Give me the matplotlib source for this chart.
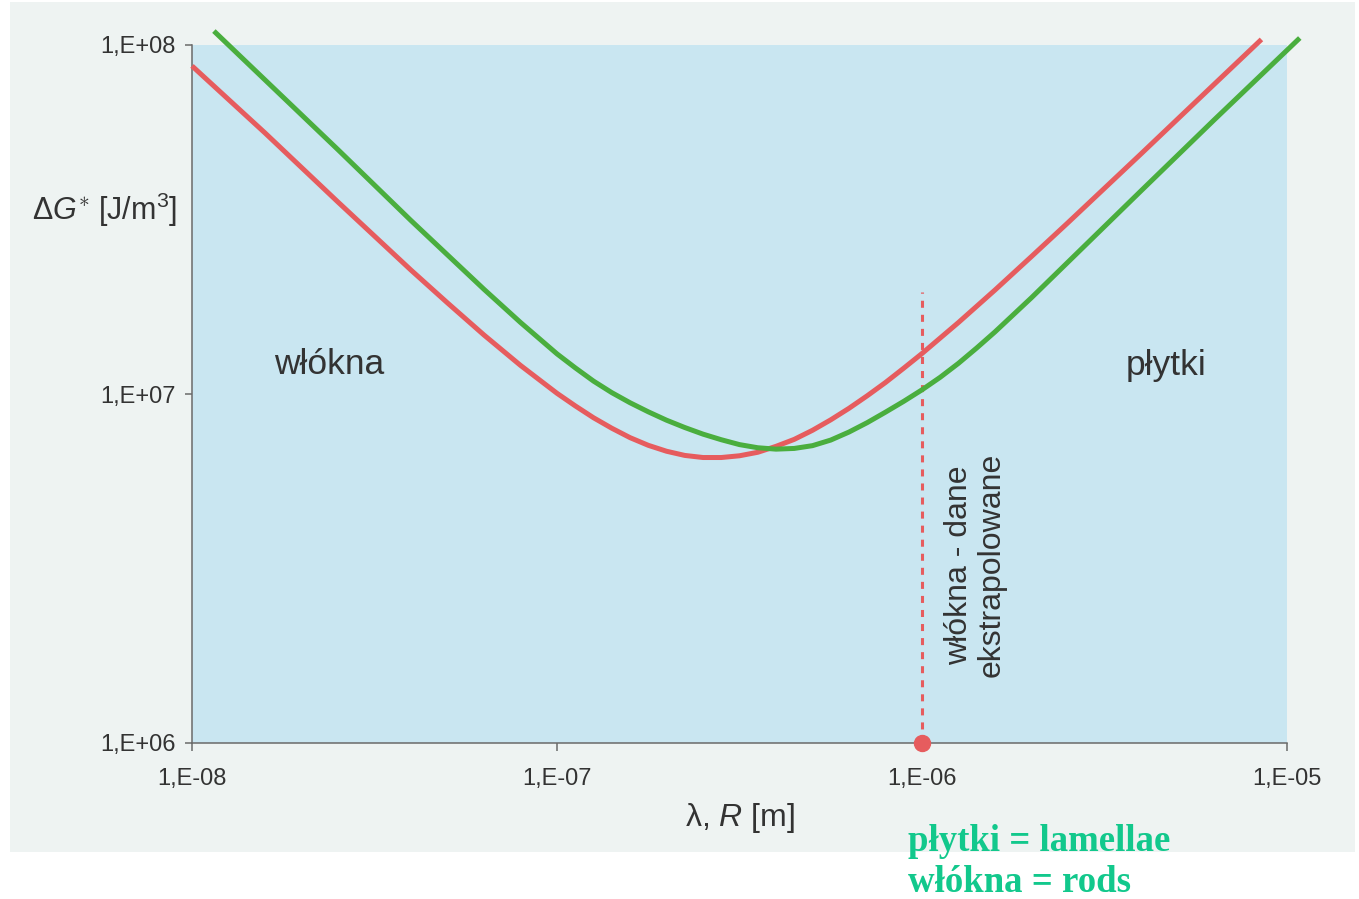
import matplotlib
matplotlib.use("Agg")
import matplotlib.pyplot as plt
from matplotlib.patches import Rectangle
import numpy as np

# ---- data (log10 values) ----
green_log_x = [-7.94, -7.8, -7.6, -7.4, -7.2, -7.1, -7.0, -6.95, -6.9, -6.85, -6.8,
               -6.75, -6.7, -6.65, -6.6, -6.55, -6.5, -6.45, -6.4, -6.35, -6.3,
               -6.25, -6.2, -6.15, -6.1, -6.05, -6.0, -5.95, -5.9, -5.85, -5.8,
               -5.7, -5.6, -5.4, -5.2, -5.0, -4.965]
green_log_y = [8.040, 7.900, 7.700, 7.497, 7.300, 7.205, 7.115, 7.075, 7.037, 7.004, 6.975,
               6.949, 6.925, 6.904, 6.885, 6.869, 6.855, 6.846, 6.842, 6.844, 6.852,
               6.868, 6.891, 6.918, 6.948, 6.979, 7.012, 7.048, 7.088, 7.132, 7.178,
               7.276, 7.378, 7.582, 7.785, 7.985, 8.020]

red_log_x = [-8.0, -7.8, -7.6, -7.4, -7.3, -7.2, -7.1, -7.0, -6.95, -6.9, -6.85, -6.8,
             -6.75, -6.7, -6.65, -6.6, -6.55, -6.5, -6.45, -6.4, -6.35, -6.3, -6.25,
             -6.2, -6.15, -6.1, -6.05, -6.0, -5.9, -5.8, -5.7, -5.6, -5.4, -5.2, -5.07]
red_log_y = [7.940, 7.748, 7.550, 7.355, 7.261, 7.169, 7.082, 7.002, 6.966, 6.932, 6.902, 6.875,
             6.853, 6.836, 6.824, 6.818, 6.818, 6.823, 6.833, 6.850, 6.870, 6.896, 6.926,
             6.959, 6.995, 7.033, 7.074, 7.116, 7.205, 7.298, 7.394, 7.491, 7.688, 7.887, 8.016]

boundary_x = 1e-6
boundary_y = [1e6, 1.96e7]

x_ticks = [1e-8, 1e-7, 1e-6, 1e-5]
x_tick_labels = ["1,E-08", "1,E-07", "1,E-06", "1,E-05"]
y_ticks = [1e6, 1e7, 1e8]
y_tick_labels = ["1,E+06", "1,E+07", "1,E+08"]

green_x = 10 ** np.array(green_log_x)
green_y = 10 ** np.array(green_log_y)
red_x = 10 ** np.array(red_log_x)
red_y = 10 ** np.array(red_log_y)

# ---- style ----
plt.rcParams['font.family'] = ['Liberation Sans', 'DejaVu Sans']
plt.rcParams['mathtext.fontset'] = 'custom'
plt.rcParams['mathtext.rm'] = 'Liberation Sans'
plt.rcParams['mathtext.it'] = 'Liberation Sans:italic'
plt.rcParams['mathtext.bf'] = 'Liberation Sans:bold'

W, H = 1359, 899
fig = plt.figure(figsize=(W / 100, H / 100), dpi=100, facecolor='white')

# scanned page background (light grey) behind the chart
bg = Rectangle((10 / W, 1 - 852 / H), (1355 - 10) / W, (852 - 2) / H,
               transform=fig.transFigure, facecolor='#eef3f2',
               edgecolor='none', zorder=-10)
fig.patches.append(bg)

ax = fig.add_axes([192 / W, 1 - 743 / H, (1287 - 192) / W, (743 - 45) / H])
ax.set_zorder(1)
ax.set_facecolor('#c9e6f1')
ax.set_xscale('log')
ax.set_yscale('log')
ax.set_xlim(1e-8, 1e-5)
ax.set_ylim(1e6, 1e8)

red_c = '#e65c5e'
green_c = '#4aae3e'

ax.plot(red_x, red_y, color=red_c, lw=3.6, clip_on=False, zorder=3,
        solid_capstyle='butt', solid_joinstyle='round')
ax.plot(green_x, green_y, color=green_c, lw=3.6, clip_on=False, zorder=3,
        solid_capstyle='butt', solid_joinstyle='round')

ax.plot([boundary_x, boundary_x], boundary_y, color=red_c, lw=2.2,
        dashes=(2.3, 2.3), zorder=2)
ax.plot([boundary_x], [boundary_y[0]], 'o', color=red_c, ms=11.5, clip_on=False,
        zorder=4)

for s in ['top', 'right']:
    ax.spines[s].set_visible(False)
for s in ['left', 'bottom']:
    ax.spines[s].set_color('#6a6a6a')
    ax.spines[s].set_linewidth(1.1)

ax.minorticks_off()
ax.set_xticks(x_ticks)
ax.set_xticklabels(x_tick_labels)
ax.set_yticks(y_ticks)
ax.set_yticklabels(y_tick_labels)
ax.tick_params(axis='both', which='minor', length=0)
ax.tick_params(axis='x', length=6, width=1.1, color='#6a6a6a', pad=12,
               labelsize=17, labelcolor='#333333')
ax.tick_params(axis='y', length=5, width=1.1, color='#6a6a6a', pad=7,
               labelsize=17, labelcolor='#333333')

# axis titles
fig.text(740 / W, 1 - 818 / H, r'λ, $R$ [m]', ha='center', va='center',
         fontsize=23, color='#333333')
fig.text(105 / W, 1 - 210 / H, r'$\Delta G^{\ast}$ [J/m$^{3}$]', ha='center',
         va='center', fontsize=22, color='#333333')

# region labels
ax.text(10 ** (-8 + (329 - 192) / 365), 10 ** (8 - (365 - 45) / 349), 'włókna',
        ha='center', va='center', fontsize=25.5, color='#333333')
ax.text(10 ** (-6 + (1163 - 913) / 374), 10 ** (8 - (365 - 45) / 349), 'płytki',
        ha='center', va='center', fontsize=25.5, color='#333333')
ax.text(10 ** (-6 + (968 - 913) / 374), 10 ** (8 - (565 - 45) / 349),
        'włókna - dane\nekstrapolowane', rotation=90, ha='center', va='center',
        fontsize=23, color='#333333', linespacing=1.1, multialignment='center')

# translation note
fig.text(908 / W, 1 - 862 / H, 'płytki = lamellae\nwłókna = rods', ha='left',
         va='center', fontsize=26.5, color='#12c88c', fontweight='bold',
         family=['Liberation Serif', 'DejaVu Serif'], linespacing=1.25,
         zorder=5)

fig.savefig('out.png', dpi=100, facecolor='white')
